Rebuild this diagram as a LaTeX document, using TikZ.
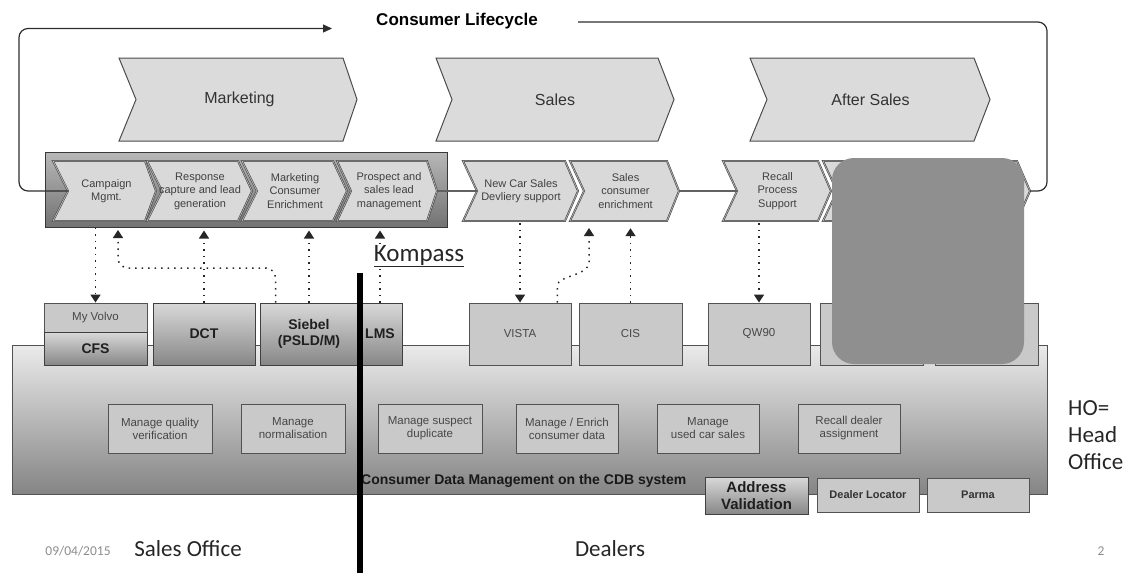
\documentclass[tikz,border=0pt]{standalone}
\usepackage{fontspec}
\setmainfont{Liberation Sans}
\newfontfamily\calfont{Carlito}
\usetikzlibrary{arrows.meta,calc}

% chevron: style, name, left x, notch x, body end x, tip x, top y, bottom y, text
\newcommand\chev[9]{%
  \path[#1] (#3,#7) -- (#5,#7) -- (#6,{(#7+#8)/2}) -- (#5,#8) -- (#3,#8) -- (#4,{(#7+#8)/2}) -- cycle;
  \coordinate (#2-in) at (#4,{(#7+#8)/2});
  \coordinate (#2-out) at (#6,{(#7+#8)/2});
  \node[#1 label,minimum width={#5-#4},minimum height={#8-#7}] (#2) at ({(#4+#5)/2},{(#7+#8)/2}) {#9};}

% box from corner to corner: style, name, x1, y1, x2, y2, text
\newcommand\rbox[7]{\node[#1,minimum width={#5-#3},minimum height={#6-#4}] (#2) at ({(#3+#5)/2},{(#4+#6)/2}) {#7};}

\begin{document}
\begin{tikzpicture}[x=1pt,y=-1pt,
  every node/.style={inner sep=0pt},
  bigchev/.style={draw=black!70,fill=black!14,line width=1pt},
  bigchev label/.style={font=\fontsize{16}{19}\selectfont,text=black!80},
  subchev/.style={draw=black!72,double=black!30,double distance=0.7pt,line width=0.6pt,fill=black!15},
  subchev label/.style={font=\fontsize{11}{13.5}\selectfont,text=black!75,align=center},
  groupbox/.style={draw=black!78,line width=1pt,top color=black!28,bottom color=black!55},
  gradbox/.style={draw=black!75,line width=0.9pt,top color=black!15,bottom color=black!47,
    font=\bfseries\fontsize{14}{16}\selectfont,text=black!88,align=center},
  flatbox/.style={draw=black!68,line width=0.9pt,fill=black!21,
    font=\fontsize{11.5}{13}\selectfont,text=black!72,align=center},
  cdbbox/.style={draw=black!68,line width=1pt,top color=black!8,bottom color=black!48},
  loopline/.style={draw=black!82,line width=1.2pt,rounded corners=9pt},
  flowline/.style={draw=black!62,line width=1.8pt},
  dotarrow/.style={draw=black!85,line width=1.5pt,dash pattern=on 1.5pt off 5pt,
    -{Triangle[width=10pt,length=8pt]}},
  calib/.style={font=\calfont\fontsize{23}{27}\selectfont,text=black!85},
]
\useasboundingbox (0,0) rectangle (1129,573);

% lifecycle phases
\chev{bigchev}{marketing}{119}{136}{343}{357}{58}{141}{Marketing}
\chev{bigchev}{sales}{436}{452}{658}{674}{58}{141}{Sales}
\chev{bigchev}{aftersales}{750}{767}{974}{990}{58}{141}{After Sales}
\node[font=\bfseries\fontsize{17}{20}\selectfont] (lifecycle) at (457,21) {Consumer Lifecycle};

% marketing process group
\rbox{groupbox}{mktgroup}{45}{152}{447}{227}{}

% process steps
\chev{subchev}{campaign}{53}{68}{145}{156}{161}{221}{Campaign\\Mgmt.}
\chev{subchev}{response}{147}{162}{238}{252}{161}{221}{Response\\capture and lead\\generation}
\chev{subchev}{enrich}{242}{257}{333}{347}{161}{221}{Marketing\\Consumer\\Enrichment}
\chev{subchev}{prospect}{337}{351}{427}{437}{161}{221}{Prospect and\\sales lead\\management}
\chev{subchev}{newcar}{463}{477}{565}{578}{161}{221}{New Car Sales\\Devliery support}
\chev{subchev}{salesenr}{570}{584}{667}{679}{161}{221}{Sales\\consumer\\enrichment}
\chev{subchev}{recall}{723}{737}{818}{831}{161}{221}{Recall\\Process\\Support}
\chev{subchev}{hiddenA}{823}{837}{918}{931}{161}{221}{}
\chev{subchev}{hiddenB}{922}{936}{1017}{1030}{161}{221}{}

\draw[flowline] (prospect-out) -- (newcar-in);
\draw[flowline] (salesenr-out) -- (recall-in);

% lifecycle loop
\coordinate (lcorner) at (19,28.5);
\coordinate (lifeL) at (332,28.5);
\draw[loopline,-{Triangle[width=8pt,length=9pt]}] (campaign-in) -| (lcorner) -- (lifeL);
\coordinate (rcorner) at (1047,22);
\coordinate (lifeR) at (578,22);
\draw[loopline] (hiddenB-out) -| (rcorner) -- (lifeR);

% consumer database
\rbox{cdbbox}{cdb}{12}{345}{1047}{494}{}

% systems
\rbox{flatbox}{volvo}{44}{303}{147}{332}{My Volvo}
\rbox{gradbox}{cfs}{44}{332}{147}{365}{CFS}
\rbox{gradbox}{dct}{153}{303}{255}{365}{DCT}
\rbox{gradbox}{siebel}{260}{303}{358}{365}{Siebel\\(PSLD/M)}
\rbox{gradbox}{lms}{358}{303}{402}{365}{LMS}
\rbox{flatbox}{vista}{469}{303}{571}{365}{VISTA}
\rbox{flatbox}{cis}{579}{303}{682}{365}{CIS}
\rbox{flatbox}{qw}{708}{303}{810}{365}{QW90}
\rbox{flatbox}{hiddenC}{820}{303}{923}{365}{}
\rbox{flatbox}{hiddenD}{935}{303}{1038}{365}{}

% database functions
\rbox{flatbox}{mqv}{108}{404}{212}{453}{Manage quality\\verification}
\rbox{flatbox}{mnorm}{241}{404}{345}{453}{Manage\\normalisation}
\rbox{flatbox}{msd}{378}{404}{482}{453}{Manage suspect\\duplicate}
\rbox{flatbox}{menrich}{516}{404}{618}{453}{Manage / Enrich\\consumer data}
\rbox{flatbox}{mused}{657}{404}{759}{453}{Manage\\used car sales}
\rbox{flatbox}{rda}{798}{404}{900}{453}{Recall dealer\\assignment}
\node[font=\bfseries\fontsize{14}{16}\selectfont,anchor=west,text=black!90] (cdbtitle) at (361,481)
  {Consumer Data Management on the CDB system};

% external services
\rbox{gradbox,font=\bfseries\fontsize{15}{16.5}\selectfont}{addr}{705}{477}{808}{514}{Address\\Validation}
\rbox{flatbox,font=\bfseries\fontsize{11}{13}\selectfont,text=black!80}{dealerloc}{817}{478}{919}{512}{Dealer Locator}
\rbox{flatbox,font=\bfseries\fontsize{11}{13}\selectfont,text=black!80}{parma}{927}{478}{1029}{512}{Parma}

% data flows
\coordinate (cmpbend) at (118,268);
\coordinate (cmpup) at (118,230);
\coordinate (seup) at (589,228);
\coordinate (vistaup) at ($(vista.north east)+(-14,0)$);
\draw[dotarrow] (mktgroup.south -| volvo.north) -- (volvo.north);
\draw[dotarrow,rounded corners=10pt] ($(siebel.north west)+(16,0)$) |- (cmpbend) -- (cmpup);
\draw[dotarrow,shorten >=3pt] (dct.north) -- (mktgroup.south -| dct.north);
\draw[dotarrow,shorten >=3pt] (siebel.north) -- (mktgroup.south -| siebel.north);
\draw[dotarrow,shorten >=3pt] (lms.north) -- (mktgroup.south -| lms.north);
\draw[dotarrow,shorten <=2pt] (newcar.south -| vista.north) -- (vista.north);
\draw[dotarrow] (vistaup) -- ++(0,-17) .. controls +(0,-10) and +(0,14) .. (589,262) -- (seup);
\draw[dotarrow,shorten >=7pt] (cis.north) -- (salesenr.south -| cis.north);
\draw[dotarrow,shorten <=2pt] (recall.south -| qw.north) -- (qw.north);

% masked area
\path[fill=black!44,rounded corners=22pt] (832,158) rectangle (1024,364);

% organisation split
\node[calib,font=\calfont\fontsize{25}{29}\selectfont,fill=white,inner sep=1pt] (kompass) at (419,256) {\underline{Kompass}};
\coordinate (divtop) at (360,273);
\coordinate (divbot) at (360,573);
\draw[line width=5.5pt] (divtop) -- (divbot);

% footer labels
\node[calib] (salesoffice) at (188,549) {Sales Office};
\node[calib] (dealers) at (610,549) {Dealers};
\node[font=\calfont\fontsize{13.5}{15}\selectfont,text=black!45] (date) at (78,551) {09/04/2015};
\node[font=\calfont\fontsize{13.5}{15}\selectfont,text=black!45] (pageno) at (1101,551) {2};
\node[calib,anchor=west,align=left] (ho) at (1068,435) {HO=\\Head\\Office};
\end{tikzpicture}
\end{document}
